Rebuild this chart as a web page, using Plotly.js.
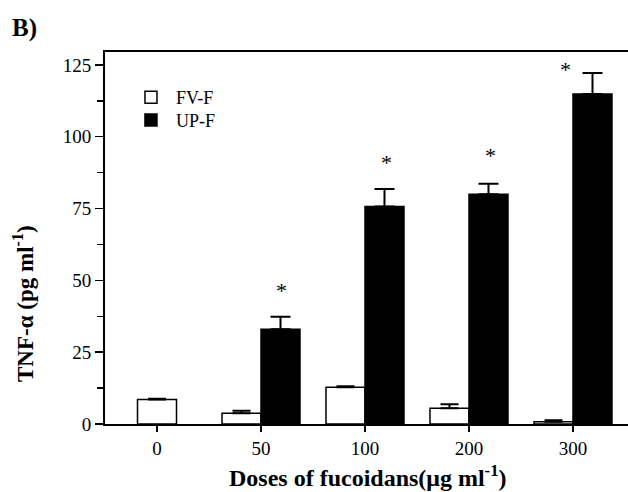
<!DOCTYPE html>
<html><head><meta charset="utf-8">
<script src="https://cdn.plot.ly/plotly-3.0.1.min.js"></script>
<style>html,body{margin:0;padding:0;background:#fff}</style>
</head><body><div id="chart" style="width:628px;height:492px"></div>
<script>
// Data
const doses = ['0', '50', '100', '200', '300'];
const fvF = [8.5, 3.7, 12.8, 5.5, 0.8];
const fvFErr = [0.3, 0.9, 0.3, 1.4, 0.5];
const upF = [null, 33.0, 75.7, 80.0, 114.9];
const upFErr = [null, 4.3, 6.1, 3.6, 7.3];
// significance marks (category index, y value)
const sigX = [1.2, 2.21, 3.21, 3.93];
const sigY = [46.4, 91.0, 93.3, 123.5];

const idx = doses.map((d, i) => i);
const barW = 0.375;
// control (dose 0) has only FV-F bar, centered on the tick
const fvOffset = idx.map(i => (upF[i] === null ? -barW / 2 : -barW));
const upOffset = idx.map(() => 0);

const serif = 'Liberation Serif, Times New Roman, serif';

const traces = [
  {
    type: 'bar', name: 'FV-F', x: idx, y: fvF, legend: 'legend',
    width: barW, offset: fvOffset,
    marker: {color: '#ffffff', line: {color: '#000', width: 1.5}},
    error_y: {type: 'data', symmetric: false, array: fvFErr, arrayminus: fvF.map(() => 0),
              color: '#000', thickness: 2, width: 9}
  },
  {
    type: 'bar', name: 'UP-F', x: idx, y: upF, legend: 'legend2',
    width: barW, offset: upOffset,
    marker: {color: '#000000', line: {color: '#000', width: 1.5}},
    error_y: {type: 'data', symmetric: false, array: upFErr, arrayminus: upF.map(() => 0),
              color: '#000', thickness: 2, width: 10}
  }
];

const annotations = sigX.map((x, k) => ({
  x: x, y: sigY[k], xref: 'x', yref: 'y', text: '*', showarrow: false,
  font: {family: serif, size: 22, color: '#000'}, xanchor: 'center', yanchor: 'middle'
}));
annotations.push({
  xref: 'paper', yref: 'paper', x: -0.1816, y: 1.0645, xanchor: 'left', yanchor: 'middle',
  text: '<b>B)</b>', showarrow: false, font: {family: serif, size: 25, color: '#000'}
});
annotations.push({
  xref: 'paper', yref: 'paper', x: -0.1549, y: 0.3253, xanchor: 'center', yanchor: 'middle',
  textangle: -90, text: '<b>TNF-α (pg ml<sup>-1</sup>)</b>', showarrow: false,
  font: {family: serif, size: 23, color: '#000'}
});
annotations.push({
  xref: 'paper', yref: 'paper', x: 0.5029, y: -0.1398, xanchor: 'center', yanchor: 'middle',
  text: '<b>Doses of fucoidans(μg ml<sup>-1</sup>)</b>', showarrow: false,
  font: {family: serif, size: 24, color: '#000'}
});

const legendBase = {xanchor: 'left', yanchor: 'top', bgcolor: 'rgba(0,0,0,0)',
                    font: {family: serif, size: 18, color: '#000'}, itemwidth: 40};

const layout = {
  width: 628, height: 492,
  margin: {l: 105, r: 0, t: 52, b: 68, pad: 0},
  paper_bgcolor: '#fff', plot_bgcolor: '#fff',
  barmode: 'overlay',
  font: {family: serif, color: '#000', size: 18},
  showlegend: true,
  legend: Object.assign({x: 0.0401, y: 0.927}, legendBase),
  legend2: Object.assign({x: 0.0401, y: 0.866}, legendBase),
  xaxis: {
    range: [-0.5, 4.529], tickmode: 'array', tickvals: idx, ticktext: doses,
    ticks: 'outside', ticklen: 6, tickwidth: 1.5, tickcolor: '#000',
    showline: true, linecolor: '#000', linewidth: 2, mirror: true,
    showgrid: false, zeroline: false, tickfont: {family: serif, size: 19, color: '#000'}
  },
  yaxis: {
    range: [0, 129.5], tickmode: 'array', tickvals: [0, 25, 50, 75, 100, 125],
    ticks: 'outside', ticklen: 8, tickwidth: 1.5, tickcolor: '#000',
    minor: {tick0: 0, dtick: 12.5, ticks: 'outside', ticklen: 6, tickwidth: 1.5, tickcolor: '#000', showgrid: false},
    showline: true, linecolor: '#000', linewidth: 2,
    showgrid: false, zeroline: false, tickfont: {family: serif, size: 19, color: '#000'}
  },
  annotations: annotations
};

Plotly.newPlot('chart', traces, layout, {displayModeBar: false, staticPlot: true});
</script>
</body></html>
